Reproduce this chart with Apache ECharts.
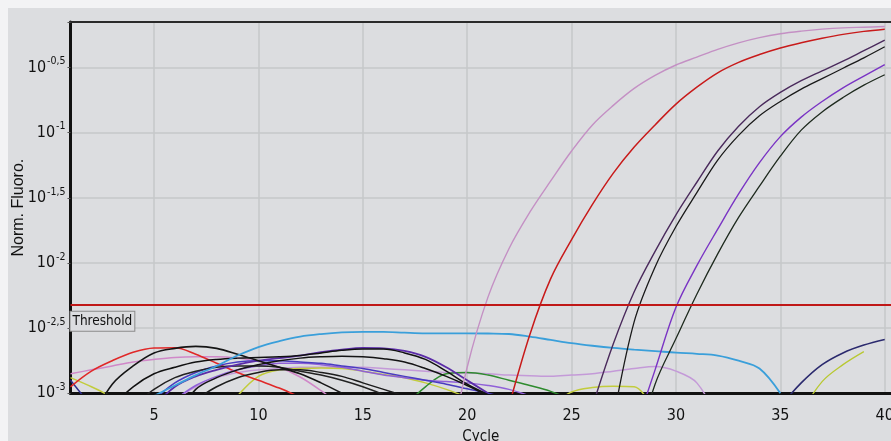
<!DOCTYPE html>
<html>
<head>
<meta charset="utf-8">
<script src="https://cdn.jsdelivr.net/npm/echarts@6/dist/echarts.min.js"></script>
<style>
html,body{margin:0;padding:0;background:#f3f3f5;overflow:hidden;}
#c{position:absolute;left:8px;top:8px;width:883px;height:433px;}
</style>
</head>
<body>
<div id="c"></div>
<script>
const _ = null;
// cycle numbers (x)
const cycles = [1,2,3,4,5,6,7,8,9,10,11,12,13,14,15,16,17,18,19,20,21,22,23,24,25,26,27,28,29,30,31,32,33,34,35,36,37,38,39,40];
// y values are log10(Norm. Fluoro.), one per cycle; null = below 10^-3 (off chart)
const pinkLow1   = [-2.85,-2.82,-2.79,-2.76,-2.74,-2.725,-2.72,-2.72,-2.73,-2.755, -2.8,-2.875,-2.98,-3.1,_,_,_,_,_,_, _,_,_,_,_,_,_,_,_,_, _,_,_,_,_,_,_,_,_,_];
const pinkLow2   = [_,_,_,_,_,-3.05,-2.95,-2.88,-2.84,-2.82, -2.81,-2.8,-2.8,-2.8,-2.8,-2.81,-2.82,-2.83,-2.84,-2.845, -2.85,-2.86,-2.865,-2.87,-2.86,-2.85,-2.83,-2.81,-2.795,-2.83, -2.92,-3.2,_,_,_,_,_,_,_,_];
const yellow1    = [-2.88,-2.95,-3.03,_,_,_,_,_,_,_, _,_,_,_,_,_,_,_,_,_, _,_,_,_,_,_,_,_,_,_, _,_,_,_,_,_,_,_,_,_];
const yellow2    = [_,_,_,_,_,_,_,_,-3.02,-2.87, -2.82,-2.81,-2.805,-2.81,-2.83,-2.855,-2.88,-2.92,-2.97,-3.03, _,_,_,_,_,_,_,_,_,_, _,_,_,_,_,_,_,_,_,_];
const yellow3    = [_,_,_,_,_,_,_,_,_,_, _,_,_,_,_,_,_,_,_,_, _,_,_,-3.1,-2.99,-2.955,-2.945,-2.95,-3.15,_, _,_,_,_,_,_,_,_,_,_];
const yellow4    = [_,_,_,_,_,_,_,_,_,_, _,_,_,_,_,_,_,_,_,_, _,_,_,_,_,_,_,_,_,_, _,_,_,_,_,-3.15,-2.91,-2.78,-2.68,_];
const navyEarly  = [-2.9,-3.1,_,_,_,_,_,_,_,_, _,_,_,_,_,_,_,_,_,_, _,_,_,_,_,_,_,_,_,_, _,_,_,_,_,_,_,_,_,_];
const navyLate   = [_,_,_,_,_,_,_,_,_,_, _,_,_,_,_,_,_,_,_,_, _,_,_,_,_,_,_,_,_,_, _,_,_,_,-3.1,-2.92,-2.78,-2.69,-2.63,-2.587];
const greenHump  = [_,_,_,_,_,_,_,_,_,_, _,_,_,_,_,_,-3.1,-2.95,-2.85,-2.84, -2.86,-2.9,-2.94,-2.985,-3.05,_,_,_,_,_, _,_,_,_,_,_,_,_,_,_];
const redHump    = [-2.95,-2.83,-2.75,-2.685,-2.652,-2.65,-2.7,-2.77,-2.84,-2.9, -2.96,-3.03,_,_,_,_,_,_,_,_, _,_,_,_,_,_,_,_,_,_, _,_,_,_,_,_,_,_,_,_];
const blackHump1 = [_,-3.2,-2.93,-2.79,-2.69,-2.655,-2.64,-2.655,-2.7,-2.75, -2.8,-2.85,-2.92,-3.0,_,_,_,_,_,_, _,_,_,_,_,_,_,_,_,_, _,_,_,_,_,_,_,_,_,_];
const blackHump2 = [_,_,-3.1,-2.95,-2.85,-2.8,-2.76,-2.74,-2.73,-2.725, -2.72,-2.71,-2.69,-2.67,-2.66,-2.66,-2.69,-2.74,-2.83,-2.93, -3.01,_,_,_,_,_,_,_,_,_, _,_,_,_,_,_,_,_,_,_];
const purpleHump = [_,_,_,_,-3.1,-2.95,-2.87,-2.82,-2.78,-2.75, -2.73,-2.71,-2.685,-2.665,-2.652,-2.655,-2.675,-2.72,-2.8,-2.9, -3.0,_,_,_,_,_,_,_,_,_, _,_,_,_,_,_,_,_,_,_];
const blackHump3 = [_,_,_,_,_,-3.2,-2.97,-2.88,-2.82,-2.78, -2.75,-2.73,-2.72,-2.715,-2.72,-2.735,-2.76,-2.81,-2.87,-2.94, -3.02,_,_,_,_,_,_,_,_,_, _,_,_,_,_,_,_,_,_,_];
const blackHump4 = [_,_,_,-3.1,-2.97,-2.88,-2.83,-2.8,-2.79,-2.79, -2.8,-2.83,-2.86,-2.9,-2.95,-3.01,_,_,_,_, _,_,_,_,_,_,_,_,_,_, _,_,_,_,_,_,_,_,_,_];
const blackHump5 = [_,_,_,_,_,_,-3.05,-2.95,-2.88,-2.84, -2.82,-2.82,-2.84,-2.87,-2.92,-2.97,-3.02,_,_,_, _,_,_,_,_,_,_,_,_,_, _,_,_,_,_,_,_,_,_,_];
const violetHump = [_,_,_,_,-3.05,-2.92,-2.84,-2.79,-2.76,-2.75, -2.75,-2.76,-2.77,-2.79,-2.81,-2.84,-2.87,-2.9,-2.93,-2.965, -3.0,-3.04,_,_,_,_,_,_,_,_, _,_,_,_,_,_,_,_,_,_];
const lilacHump  = [_,_,_,_,_,-3.05,-2.94,-2.87,-2.82,-2.79, -2.77,-2.77,-2.78,-2.8,-2.83,-2.86,-2.88,-2.9,-2.91,-2.92, -2.94,-2.97,-3.02,_,_,_,_,_,_,_, _,_,_,_,_,_,_,_,_,_];
const cyanDrift  = [_,_,_,_,-3.02,-2.94,-2.86,-2.79,-2.71,-2.645, -2.6,-2.565,-2.545,-2.532,-2.528,-2.528,-2.535,-2.54,-2.54,-2.54, -2.541,-2.545,-2.565,-2.59,-2.615,-2.635,-2.652,-2.665,-2.676,-2.688, -2.697,-2.71,-2.75,-2.81,-3.0,_,_,_,_,_];
const pinkAmp    = [_,_,_,_,_,_,_,_,_,_, _,_,_,_,_,_,_,_,-3.55,-2.8, -2.26,-1.89,-1.61,-1.37,-1.14,-0.94,-0.79,-0.66,-0.56,-0.48, -0.42,-0.36,-0.31,-0.27,-0.24,-0.22,-0.205,-0.195,-0.19,-0.185];
const redAmp     = [_,_,_,_,_,_,_,_,_,_, _,_,_,_,_,_,_,_,_,_, _,-3.1,-2.55,-2.12,-1.82,-1.55,-1.31,-1.11,-0.94,-0.78, -0.65,-0.54,-0.46,-0.40,-0.35,-0.31,-0.275,-0.245,-0.222,-0.205];
const ampA       = [_,_,_,_,_,_,_,_,_,_, _,_,_,_,_,_,_,_,_,_, _,_,_,_,_,-3.1,-2.62,-2.22,-1.91,-1.63, -1.38,-1.14,-0.95,-0.80,-0.69,-0.60,-0.525,-0.45,-0.37,-0.29];
const ampB       = [_,_,_,_,_,_,_,_,_,_, _,_,_,_,_,_,_,_,_,_, _,_,_,_,_,_,-3.2,-2.45,-2.03,-1.72, -1.46,-1.21,-1.02,-0.87,-0.76,-0.665,-0.585,-0.505,-0.425,-0.34];
const ampC       = [_,_,_,_,_,_,_,_,_,_, _,_,_,_,_,_,_,_,_,_, _,_,_,_,_,_,_,-3.3,-2.82,-2.34, -2.02,-1.74,-1.47,-1.23,-1.03,-0.88,-0.76,-0.655,-0.565,-0.478];
const ampD       = [_,_,_,_,_,_,_,_,_,_, _,_,_,_,_,_,_,_,_,_, _,_,_,_,_,_,_,-3.5,-2.93,-2.58, -2.24,-1.93,-1.65,-1.41,-1.18,-0.98,-0.84,-0.73,-0.635,-0.555];
const thresholdLog = -2.32;
const xTickLabels = [5,10,15,20,25,30,35,40];

const narrow = "'Liberation Sans Narrow','Arial Narrow','DejaVu Sans Condensed',sans-serif";
const regular = "'Liberation Sans',Arial,sans-serif";

const curveList = [
  ['pinkLow1', pinkLow1, '#d088c8', 1.5],
  ['pinkLow2', pinkLow2, '#c49ad8', 1.5],
  ['yellow1', yellow1, '#c2cc3c', 1.5],
  ['yellow2', yellow2, '#c2cc3c', 1.5],
  ['yellow3', yellow3, '#c2cc3c', 1.5],
  ['yellow4', yellow4, '#b8c832', 1.3],
  ['navyEarly', navyEarly, '#2b2a8e', 1.5],
  ['greenHump', greenHump, '#2e8b2e', 1.5],
  ['redHump', redHump, '#e02828', 1.6],
  ['lilacHump', lilacHump, '#9060d8', 1.5],
  ['violetHump', violetHump, '#4a3cc0', 1.5],
  ['blackHump5', blackHump5, '#1c1c1c', 1.5],
  ['blackHump4', blackHump4, '#222222', 1.5],
  ['blackHump3', blackHump3, '#141414', 1.5],
  ['purpleHump', purpleHump, '#5b2ca8', 1.8],
  ['blackHump2', blackHump2, '#111111', 1.5],
  ['blackHump1', blackHump1, '#151515', 1.6],
  ['cyanDrift', cyanDrift, '#3a9fda', 1.8],
  ['navyLate', navyLate, '#2b2a6e', 1.6],
  ['ampD', ampD, '#1e2a1e', 1.3],
  ['ampC', ampC, '#7a34c4', 1.4],
  ['ampB', ampB, '#1a1a1a', 1.3],
  ['ampA', ampA, '#4a2a5c', 1.4],
  ['redAmp', redAmp, '#c81a1a', 1.5],
  ['pinkAmp', pinkAmp, '#c490c4', 1.4]
];

const series = curveList.map(([name, vals, color, w], k) => ({
  type: 'line', name: name,
  data: cycles.map((c, i) => [c, vals[i]]),
  symbol: 'none', showSymbol: false, smooth: 0.35, connectNulls: false,
  lineStyle: { color: color, width: w }, silent: true, animation: false, z: 2 + k * 0.01
}));

series[series.length - 1].markLine = {
  symbol: 'none', silent: true, animation: false,
  lineStyle: { color: '#c01818', width: 2, type: 'solid' },
  label: {
    show: true, position: 'insideStartBottom', formatter: 'Threshold',
    fontFamily: narrow, fontSize: 13.5, color: '#111',
    backgroundColor: '#dcdde0', borderColor: '#8a8a8a', borderWidth: 1,
    padding: [3, 2, 2, 2], distance: [0, 7]
  },
  data: [{ yAxis: thresholdLog }]
};

const G = 'rgba(0,0,0,0)';
const gridCol = '#c6c7ca';

const option = {
  backgroundColor: '#dcdde0',
  animation: false,
  grid: {
    left: 62.5, top: 14, right: 0, bottom: 47.7, show: true,
    backgroundColor: '#dcdde0', borderWidth: 0,
    containLabel: false, outerBoundsMode: 'none'
  },
  xAxis: [{
    type: 'value', min: 1, max: 40.3, interval: 1,
    name: 'Cycle', nameLocation: 'middle', nameGap: 36, nameMoveOverlap: false,
    nameTextStyle: { fontFamily: narrow, fontSize: 15, color: '#111' },
    axisLine: { onZero: false, lineStyle: { color: '#111', width: 3 } },
    axisTick: { show: false },
    axisLabel: {
      margin: 15, fontFamily: narrow, fontSize: 16, color: '#111',
      formatter: v => (xTickLabels.indexOf(v) >= 0 ? String(v) : '')
    },
    splitLine: { show: true, lineStyle: { color: [G, G, G, G, gridCol], width: 1.5 } }
  }, {
    type: 'value', min: 1, max: 40.3, position: 'top',
    axisLine: { show: true, onZero: false, lineStyle: { color: '#2a2a2a', width: 2 } },
    axisTick: { show: false }, axisLabel: { show: false }, splitLine: { show: false }
  }],
  yAxis: {
    type: 'value', min: -3, max: -0.15, interval: 0.5,
    name: 'Norm. Fluoro.', nameLocation: 'middle', nameGap: 44, nameRotate: 90, nameMoveOverlap: false,
    nameTextStyle: { fontFamily: regular, fontSize: 16, color: '#111' },
    axisLine: { show: true, onZero: false, lineStyle: { color: '#111', width: 3 } },
    axisTick: { show: true, length: 3, lineStyle: { color: '#555' } },
    axisLabel: {
      margin: 5,
      formatter: v => {
        if (Math.abs(v * 2 - Math.round(v * 2)) > 1e-6) return '';
        const e = String(Math.round(v * 10) / 10).replace('.', ',');
        return '{b|10}{s|' + e + '}';
      },
      rich: {
        b: { fontFamily: narrow, fontSize: 16, color: '#111' },
        s: { fontFamily: narrow, fontSize: 10.5, color: '#111', padding: [0, 0, 12, 1] }
      }
    },
    splitLine: { show: true, lineStyle: { color: gridCol, width: 1.5 } }
  },
  series: series
};

const chart = echarts.init(document.getElementById('c'));
chart.setOption(option);
</script>
</body>
</html>
